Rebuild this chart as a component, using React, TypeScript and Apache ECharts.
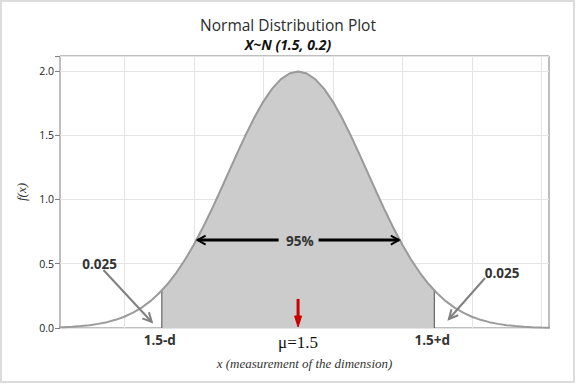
import React, { useEffect, useRef } from "react";
import * as echarts from "echarts";

// ---- data ----
const curveX = [
  0.8, 0.825, 0.85, 0.875, 0.9, 0.925, 0.95, 0.975, 1.0, 1.025, 1.05, 1.075, 1.1, 1.125,
  1.15, 1.175, 1.2, 1.225, 1.25, 1.275, 1.3, 1.325, 1.35, 1.375, 1.4, 1.425, 1.45, 1.475,
  1.5, 1.525, 1.55, 1.575, 1.6, 1.625, 1.65, 1.675, 1.7, 1.725, 1.75, 1.775, 1.8, 1.825,
  1.85, 1.875, 1.9, 1.925, 1.95, 1.975, 2.0, 2.025, 2.05, 2.075, 2.1, 2.125, 2.15, 2.175,
  2.2, 2.225,
];
const curveY = [
  0.0044, 0.0067, 0.0102, 0.0151, 0.0222, 0.032, 0.0455, 0.0636, 0.0876, 0.1189, 0.1587,
  0.2086, 0.27, 0.3439, 0.4314, 0.5327, 0.6476, 0.7751, 0.9132, 1.0594, 1.2099, 1.3603,
  1.5057, 1.6408, 1.7603, 1.8593, 1.9333, 1.9792, 1.9947, 1.9792, 1.9333, 1.8593, 1.7603,
  1.6408, 1.5057, 1.3603, 1.2099, 1.0594, 0.9132, 0.7751, 0.6476, 0.5327, 0.4314, 0.3439,
  0.27, 0.2086, 0.1587, 0.1189, 0.0876, 0.0636, 0.0455, 0.032, 0.0222, 0.0151, 0.0102,
  0.0067, 0.0044, 0.0028,
];
const mean = 1.5;
const lowerBound = 1.108;
const upperBound = 1.892;
const boundDensity = 0.292;
const xGridValues = [1.0, 1.2, 1.4, 1.6, 1.8, 2.0, 2.2];
const yTicks = [0, 0.5, 1.0, 1.5, 2.0];
const yTickLabels = ["0.0", "0.5", "1.0", "1.5", "2.0"];
const boundLabels = ["1.5-d", "μ=1.5", "1.5+d"];
const tailLabel = "0.025";
const centralLabel = "95%";

const X_MIN = 0.815;
const X_MAX = 2.222;
const Y_MAX = 2.115;

const SANS = '"Open Sans", "Noto Sans", sans-serif';
const SERIF = '"Liberation Serif", "DejaVu Serif", serif';

function arrowHead(
  from: number[],
  tip: number[],
  len: number,
  half: number
): number[][] {
  const dx = tip[0] - from[0];
  const dy = tip[1] - from[1];
  const l = Math.hypot(dx, dy) || 1;
  const ux = dx / l;
  const uy = dy / l;
  const nx = -uy;
  const ny = ux;
  const bx = tip[0] - ux * len;
  const by = tip[1] - uy * len;
  return [
    [bx + nx * half, by + ny * half],
    [tip[0], tip[1]],
    [bx - nx * half, by - ny * half],
  ];
}

export default function App() {
  const ref = useRef<HTMLDivElement>(null);

  useEffect(() => {
    if (!ref.current) return;
    const chart = echarts.init(ref.current, null, { renderer: "svg" });

    const curve = curveX.map((x, i) => [x, curveY[i]]);
    const shaded: number[][] = [[lowerBound, 0], [lowerBound, boundDensity]];
    curve.forEach((p) => {
      if (p[0] > lowerBound && p[0] < upperBound) shaded.push(p);
    });
    shaded.push([upperBound, boundDensity], [upperBound, 0]);

    chart.setOption({
      animation: false,
      title: [
        {
          text: "Normal Distribution Plot",
          left: "center",
          top: 12,
          textStyle: { fontFamily: SANS, fontSize: 15.5, fontWeight: "normal", color: "#2b2b2b" },
        },
        {
          text: "X~N (1.5, 0.2)",
          left: "center",
          top: 32,
          textStyle: {
            fontFamily: SANS,
            fontSize: 14,
            fontWeight: "bold",
            fontStyle: "italic",
            color: "#111111",
          },
        },
      ],
      grid: {
        left: 60,
        right: 27,
        top: 56,
        bottom: 56,
        show: true,
        borderColor: "#7f7f7f",
        borderWidth: 1,
        backgroundColor: "transparent",
      },
      xAxis: {
        type: "value",
        min: X_MIN,
        max: X_MAX,
        axisLine: { show: false },
        axisTick: { show: false },
        axisLabel: { show: false },
        splitLine: { show: false },
        name: "x (measurement of the dimension)",
        nameLocation: "middle",
        nameGap: 29,
        nameTextStyle: { fontFamily: SERIF, fontStyle: "italic", fontSize: 13, color: "#333333" },
      },
      yAxis: {
        type: "value",
        min: 0,
        max: Y_MAX,
        interval: 0.5,
        axisLine: { show: false },
        axisTick: { show: true, length: 5, lineStyle: { color: "#7f7f7f" } },
        axisLabel: {
          margin: 6,
          fontFamily: SANS,
          fontSize: 10.5,
          color: "#222222",
          formatter: (v: number) => {
            const i = yTicks.findIndex((t) => Math.abs(t - v) < 1e-6);
            return i >= 0 ? yTickLabels[i] : "";
          },
        },
        splitLine: { show: true, lineStyle: { color: "#e4e4e4", width: 1 } },
        name: "f(x)",
        nameLocation: "middle",
        nameGap: 27,
        nameRotate: 90,
        nameTextStyle: { fontFamily: SERIF, fontStyle: "italic", fontSize: 13, color: "#333333" },
      },
      series: [
        {
          type: "line",
          data: shaded,
          symbol: "none",
          lineStyle: { color: "#4a4a4a", width: 1 },
          areaStyle: { color: "#cccccc", opacity: 1 },
          z: 2,
          silent: true,
        },
        {
          type: "line",
          data: curve,
          symbol: "none",
          lineStyle: { color: "#9b9b9b", width: 2 },
          z: 3,
          silent: true,
        },
      ],
    });

    const px = (x: number, y: number) =>
      chart.convertToPixel({ gridIndex: 0 }, [x, y]) as number[];

    const graphics: any[] = [];
    const Z = 50;
    // outer frame
    graphics.push({
      type: "rect",
      z: Z,
      shape: { x: 1, y: 1, width: 573, height: 381 },
      style: { stroke: "#dcdcdc", lineWidth: 2, fill: "none" },
      silent: true,
    });

    // vertical grid lines (under the shaded area)
    xGridValues.forEach((v) => {
      const top = px(v, Y_MAX);
      const bot = px(v, 0);
      const xx = Math.round(top[0]) + 0.5;
      graphics.push({
        type: "line",
        z: 0,
        shape: { x1: xx, y1: top[1], x2: xx, y2: bot[1] },
        style: { stroke: "#e4e4e4", lineWidth: 1 },
        silent: true,
      });
    });

    // bound labels under the axis
    const axisY = px(mean, 0)[1];
    [lowerBound, mean, upperBound].forEach((v, i) => {
      const p = px(v, 0);
      const isMean = i === 1;
      graphics.push({
        type: "text",
        z: Z,
        x: p[0] + (isMean ? 0 : -2),
        y: axisY + (isMean ? 14 : 12),
        style: {
          text: boundLabels[i],
          fill: isMean ? "#111111" : "#333333",
          font: isMean ? `17px ${SERIF}` : `bold 13.5px ${SANS}`,
          align: "center",
          verticalAlign: "middle",
        },
        silent: true,
      });
    });

    // red arrow at the mean
    const rTop = px(mean, 0.226);
    const rTip = px(mean, 0);
    graphics.push({
      type: "line",
      z: Z,
      shape: { x1: rTop[0], y1: rTop[1], x2: rTip[0], y2: rTip[1] - 6 },
      style: { stroke: "#cc0000", lineWidth: 3 },
      silent: true,
    });
    graphics.push({
      type: "polygon",
      z: Z,
      shape: { points: arrowHead(rTop, [rTip[0], rTip[1] - 1], 11, 3.5) },
      style: { fill: "#cc0000", stroke: "#cc0000", lineWidth: 1 },
      silent: true,
    });

    // 95% arrows
    const cy = 0.684;
    const c = px(1.505, cy);
    graphics.push({
      type: "text",
      z: Z,
      x: c[0],
      y: c[1] + 1,
      style: {
        text: centralLabel,
        fill: "#333333",
        font: `bold 13.5px ${SANS}`,
        align: "center",
        verticalAlign: "middle",
      },
      silent: true,
    });
    const leftFrom = px(1.444, cy);
    const leftTip = px(1.211, cy);
    const rightFrom = px(1.559, cy);
    const rightTip = px(1.79, cy);
    [
      [leftFrom, leftTip],
      [rightFrom, rightTip],
    ].forEach(([f, t]) => {
      graphics.push({
        type: "line",
        z: Z,
        shape: { x1: f[0], y1: f[1], x2: t[0], y2: t[1] },
        style: { stroke: "#000000", lineWidth: 3 },
        silent: true,
      });
      graphics.push({
        type: "polyline",
        z: Z,
        shape: { points: arrowHead(f, t, 8, 4.5) },
        style: { stroke: "#000000", lineWidth: 2, fill: null },
        silent: true,
      });
    });

    // tail annotations
    const tails = [
      { text: [0.929, 0.498], from: [0.94, 0.451], tip: [1.079, 0.047] },
      { text: [2.087, 0.428], from: [2.038, 0.389], tip: [1.934, 0.07] },
    ];
    tails.forEach((t) => {
      const tp = px(t.text[0], t.text[1]);
      const f = px(t.from[0], t.from[1]);
      const tip = px(t.tip[0], t.tip[1]);
      graphics.push({
        type: "text",
        z: Z,
        x: tp[0],
        y: tp[1],
        style: {
          text: tailLabel,
          fill: "#333333",
          font: `bold 13.5px ${SANS}`,
          align: "center",
          verticalAlign: "middle",
        },
        silent: true,
      });
      graphics.push({
        type: "line",
        z: Z,
        shape: { x1: f[0], y1: f[1], x2: tip[0], y2: tip[1] },
        style: { stroke: "#808080", lineWidth: 2 },
        silent: true,
      });
      graphics.push({
        type: "polyline",
        z: Z,
        shape: { points: arrowHead(f, tip, 9, 4.5) },
        style: { stroke: "#808080", lineWidth: 2, fill: null },
        silent: true,
      });
    });

    chart.setOption({ graphic: graphics });

    return () => chart.dispose();
  }, []);

  return (
    <div
      style={{ position: "absolute", left: 0, top: 0, width: 576, height: 384, background: "#ffffff" }}
    >
      <div ref={ref} style={{ width: 576, height: 384 }} />
    </div>
  );
}
